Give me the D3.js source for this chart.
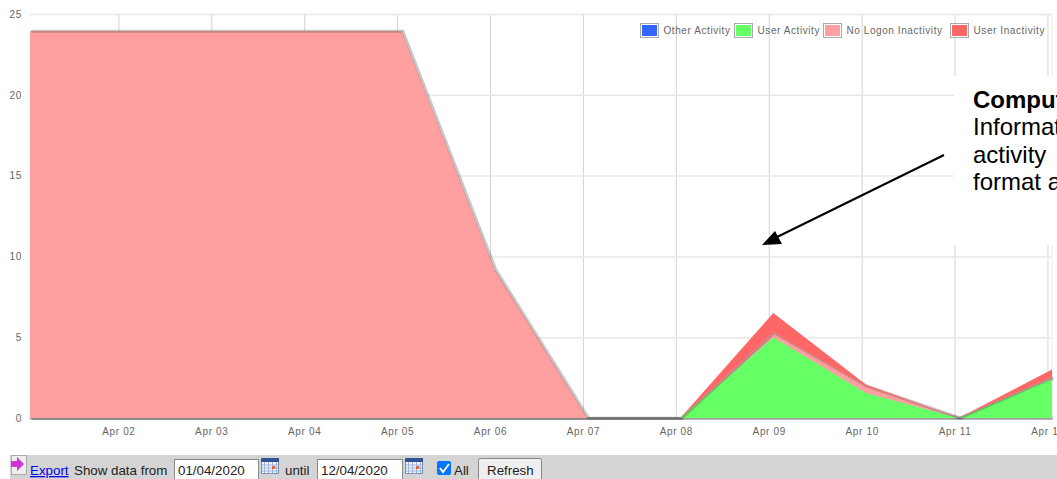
<!DOCTYPE html>
<html>
<head>
<meta charset="utf-8">
<script src="https://cdn.jsdelivr.net/npm/d3@7"></script>
<style>
    html, body { margin: 0; padding: 0; background: #fff; overflow: hidden; }
    svg { display: block; font-family: "Liberation Sans", Arial, sans-serif; }
    .tick text { fill: #666; font-size: 10px; letter-spacing: 0.65px; }
</style>
</head>
<body>
<div id="chart"></div>
<script>
// values, hours per day
const days = ["2020-04-01", "2020-04-02", "2020-04-03", "2020-04-04", "2020-04-05", "2020-04-06",
    "2020-04-07", "2020-04-08", "2020-04-09", "2020-04-10", "2020-04-11", "2020-04-12"]
const otherActivity = [0, 0, 0, 0, 0, 0, 0, 0, 0, 0, 0, 0]
const userActivity = [0, 0, 0, 0, 0, 0, 0, 0, 5.0, 1.55, 0, 2.45]
const noLogonInactivity = [23.95, 23.95, 23.95, 23.95, 23.95, 9.2, 0, 0, 0.3, 0.42, 0.02, 0.08]
const userInactivity = [0, 0, 0, 0, 0, 0, 0, 0, 1.2, 0.08, 0, 0.47]

const xTickDays = ["2020-04-02", "2020-04-03", "2020-04-04", "2020-04-05", "2020-04-06", "2020-04-07",
    "2020-04-08", "2020-04-09", "2020-04-10", "2020-04-11", "2020-04-12"]
const yTicks = [0, 5, 10, 15, 20, 25]

const seriesNames = ["Other Activity", "User Activity", "No Logon Inactivity", "User Inactivity"]
const seriesColors = ["#3366ff", "#66ff66", "#ff9f9f", "#ff6666"]
const legendSwatchX = [640, 734, 823, 950]

const noteLines = ["Comput", "Informat", "activity", "format a"]

const width = 1057, height = 479
const plot = { left: 29, right: 1052, top: 14, bottom: 418 }

const svg = d3.select("#chart").append("svg")
    .attr("width", width)
    .attr("height", height)

// samples were stamped a little after midnight, so they sit right of the ticks
const sampleTime = d => new Date(d + "T01:10:00Z")
const tickTime = d => new Date(d + "T00:00:00Z")

const x = d3.scaleUtc()
    .domain([sampleTime(days[0]), sampleTime(days[days.length - 1])])
    .range([plot.left + 1, plot.right])
const y = d3.scaleLinear()
    .domain([0, 25])
    .range([plot.bottom, plot.top])

const rows = days.map((d, i) => ({
    date: sampleTime(d),
    "Other Activity": otherActivity[i],
    "User Activity": userActivity[i],
    "No Logon Inactivity": noLogonInactivity[i],
    "User Inactivity": userInactivity[i]
}))
const stacked = d3.stack().keys(seriesNames)(rows)

// grid
const xAxis = svg.append("g")
    .attr("transform", `translate(0,${plot.bottom})`)
    .call(d3.axisBottom(x)
        .tickValues(xTickDays.map(tickTime))
        .tickFormat(d3.utcFormat("%b %d"))
        .tickSize(-(plot.bottom - plot.top))
        .tickPadding(10))
xAxis.select(".domain").remove()
xAxis.selectAll("line").attr("stroke", "#d4d4d4")

const yAxis = svg.append("g")
    .attr("transform", `translate(${plot.left},0)`)
    .call(d3.axisLeft(y)
        .tickValues(yTicks)
        .tickSize(-(plot.right - plot.left))
        .tickPadding(7))
yAxis.select(".domain").remove()
yAxis.selectAll("line").attr("stroke", "#e8e8e8").attr("stroke-width", 1.5)

svg.append("line")
    .attr("x1", plot.right).attr("x2", plot.right)
    .attr("y1", plot.top).attr("y2", plot.bottom)
    .attr("stroke", "#ececec")

// baseline
svg.append("line")
    .attr("x1", plot.left).attr("x2", plot.right)
    .attr("y1", plot.bottom + 0.5).attr("y2", plot.bottom + 0.5)
    .attr("stroke", "#ccc")
    .attr("stroke-width", 2)

// stacked areas, shadows of the lower series stay under their own fill
const area = d3.area()
    .x(d => x(d.data.date))
    .y0(d => y(d[0]))
    .y1(d => y(d[1]))
const topLine = d3.line()
    .x(d => x(d.data.date))
    .y(d => y(d[1]))

const shadow = (s, dy) => svg.append("path")
    .datum(s)
    .attr("fill", "none")
    .attr("stroke", "#444")
    .attr("stroke-opacity", 0.3)
    .attr("stroke-width", 3)
    .attr("transform", `translate(1.2,${dy})`)
    .attr("d", topLine)

stacked.forEach((s, i) => {
    if (i < 2) shadow(s, 0.5)
    svg.append("path")
        .datum(s)
        .attr("fill", seriesColors[i])
        .attr("d", area)
    if (i == 2) shadow(s, 0.3)
})

// legend
const legend = svg.append("g").selectAll("g")
    .data(seriesNames)
    .join("g")
    .attr("transform", (d, i) => `translate(${legendSwatchX[i]},23)`)
legend.append("rect")
    .attr("x", 0.5).attr("y", 0.5)
    .attr("width", 18).attr("height", 14)
    .attr("fill", "#fff")
    .attr("stroke", "#aaa")
legend.append("rect")
    .attr("x", 2).attr("y", 2)
    .attr("width", 15).attr("height", 11)
    .attr("fill", (d, i) => seriesColors[i])
legend.append("text")
    .attr("x", 23.5).attr("y", 11)
    .attr("font-size", 10)
    .attr("letter-spacing", 0.58)
    .attr("fill", "#666")
    .text(d => d)

// pasted callout
svg.append("rect")
    .attr("x", 954).attr("y", 76)
    .attr("width", 103).attr("height", 169)
    .attr("fill", "#fff")
svg.append("g").selectAll("text")
    .data(noteLines)
    .join("text")
    .attr("x", 973)
    .attr("y", (d, i) => 108 + i * 27.3)
    .attr("font-size", 24)
    .attr("font-weight", (d, i) => i == 0 ? "bold" : "normal")
    .attr("fill", "#000")
    .text(d => d)

svg.append("line")
    .attr("x1", 944).attr("y1", 155)
    .attr("x2", 773).attr("y2", 239)
    .attr("stroke", "#000")
    .attr("stroke-width", 2)
svg.append("path")
    .attr("d", d3.line()([[762, 245], [775, 231], [782, 244]]))
    .attr("fill", "#000")

// toolbar under the chart
const bar = svg.append("g")
bar.append("rect")
    .attr("x", 10).attr("y", 455)
    .attr("width", width - 10).attr("height", 24)
    .attr("fill", "#d4d4d4")

bar.append("rect")
    .attr("x", 11.5).attr("y", 455.5)
    .attr("width", 15).attr("height", 19)
    .attr("fill", "#eee").attr("stroke", "#aaa")
bar.append("path")
    .attr("d", d3.line()([[11, 461], [17, 461], [17, 457], [24, 464], [17, 471], [17, 467], [11, 467]]))
    .attr("fill", "#d633d6")

const barText = (txt, tx, color) => bar.append("text")
    .attr("x", tx).attr("y", 475)
    .attr("font-size", 13.33)
    .attr("fill", color || "#222")
    .text(txt)

barText("Export", 30, "#0000ee").attr("text-decoration", "underline")
barText("Show data from", 74)
barText("until", 285)
barText("All", 454)

const dateBox = (bx, w, txt) => {
    bar.append("rect")
        .attr("x", bx + 0.5).attr("y", 459.5)
        .attr("width", w).attr("height", 24)
        .attr("fill", "#fff").attr("stroke", "#888")
    barText(txt, bx + 4)
}
dateBox(174, 84, "01/04/2020")
dateBox(317, 85, "12/04/2020")

const calendar = cx => {
    bar.append("rect")
        .attr("x", cx + 0.5).attr("y", 458.5)
        .attr("width", 17).attr("height", 15)
        .attr("fill", "#f4f4ff").attr("stroke", "#7a8fb5")
    bar.append("rect")
        .attr("x", cx).attr("y", 458)
        .attr("width", 18).attr("height", 4)
        .attr("fill", "#33558f")
    d3.range(3).forEach(r => bar.append("line")
        .attr("x1", cx + 1).attr("x2", cx + 17)
        .attr("y1", 465 + r * 3).attr("y2", 465 + r * 3)
        .attr("stroke", "#9db4dc"))
    d3.range(4).forEach(c => bar.append("line")
        .attr("x1", cx + 3.5 + c * 4).attr("x2", cx + 3.5 + c * 4)
        .attr("y1", 462).attr("y2", 473)
        .attr("stroke", "#9db4dc"))
    bar.append("rect")
        .attr("x", cx + 11).attr("y", 466)
        .attr("width", 3).attr("height", 3)
        .attr("fill", "#e8603c")
}
calendar(261)
calendar(405)

// checkbox
bar.append("rect")
    .attr("x", 437).attr("y", 461)
    .attr("width", 14).attr("height", 14)
    .attr("rx", 2)
    .attr("fill", "#0075ff")
bar.append("path")
    .attr("d", d3.line()([[440, 468], [443, 472], [449, 464]]))
    .attr("fill", "none")
    .attr("stroke", "#fff")
    .attr("stroke-width", 2)

// refresh button
bar.append("rect")
    .attr("x", 478.5).attr("y", 458.5)
    .attr("width", 63).attr("height", 26)
    .attr("rx", 2)
    .attr("fill", "#efefef").attr("stroke", "#888")
barText("Refresh", 487)
</script>
</body>
</html>
